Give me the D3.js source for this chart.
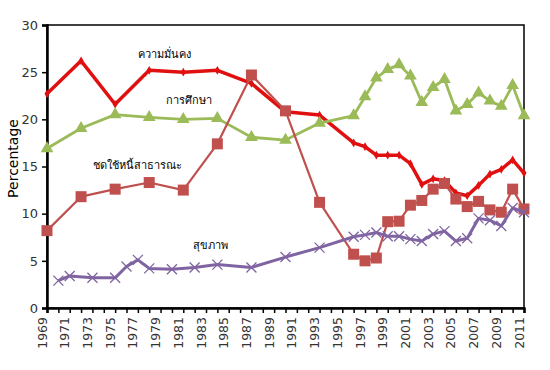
<!DOCTYPE html>
<html><head><meta charset="utf-8">
<script src="https://cdn.jsdelivr.net/npm/d3@7"></script>
<style>body{margin:0;background:#fff;} svg{display:block;}</style>
</head><body>
<svg id="c" width="550" height="370"></svg>
<script>
const yearsA = [1969,1972,1975,1978,1981,1984,1987,1990,1993,1996,1997,1998,1999,2000,2001,2002,2003,2004,2005,2006,2007,2008,2009,2010,2011];
const security = [22.7,26.2,21.6,25.2,25.0,25.2,23.8,20.8,20.45,17.5,17.1,16.2,16.2,16.2,15.3,13.1,13.7,13.5,12.2,11.9,13.0,14.2,14.7,15.7,14.3];
const education = [16.9,19.05,20.5,20.2,20.0,20.1,18.1,17.8,19.6,20.4,22.4,24.4,25.3,25.8,24.6,21.8,23.4,24.25,20.9,21.6,22.8,21.95,21.4,23.6,20.4];
const debt = [8.2,11.8,12.6,13.3,12.5,17.4,24.7,20.9,11.2,5.7,5.0,5.3,9.15,9.2,10.9,11.4,12.6,13.2,11.55,10.75,11.3,10.4,10.15,12.6,10.5];
const yearsH = [1970,1971,1973,1975,1976,1977,1978,1980,1982,1984,1987,1990,1993,1996,1997,1998,1999,2000,2001,2002,2003,2004,2005,2006,2007,2008,2009,2010,2011];
const health = [2.9,3.4,3.2,3.2,4.4,5.1,4.2,4.1,4.3,4.6,4.3,5.4,6.4,7.55,7.75,8.0,7.6,7.6,7.3,7.1,7.85,8.15,7.1,7.4,9.5,9.3,8.7,10.6,10.15];
const yTicks = [0,5,10,15,20,25,30];
const xLabelYears = d3.range(1969, 2012, 2);
const xTickYears = d3.range(1969, 2012, 1);
const names = {security:"ความมั่นคง", education:"การศึกษา", debt:"ชดใช้หนี้สาธารณะ", health:"สุขภาพ"};

const svg = d3.select("#c");
const L=47, R=524, T=25, B=308;
const x = d3.scaleLinear().domain([1969,2011]).range([L,R]);
const y = d3.scaleLinear().domain([0,30]).range([B,T]);
const font = "'DejaVu Sans', Verdana, sans-serif";

// frame
svg.append("rect").attr("x",L).attr("y",T).attr("width",R-L).attr("height",B-T)
  .attr("fill","none").attr("stroke","#000").attr("stroke-width",1.5);

// y axis
const ya = svg.append("g").attr("transform",`translate(${L},0)`)
  .call(d3.axisLeft(y).tickValues(yTicks).tickSize(5).tickPadding(4));
ya.select(".domain").attr("stroke","#000").attr("stroke-width",2.5);
ya.selectAll(".tick line").attr("stroke","#000").attr("stroke-width",1.5);
ya.selectAll("text").attr("font-family",font).attr("font-size",13).attr("fill","#333");

// x axis
const xa = svg.append("g").attr("transform",`translate(0,${B})`)
  .call(d3.axisBottom(x).tickValues(xTickYears).tickSize(5).tickFormat(d => xLabelYears.includes(d) ? String(d) : ""));
xa.select(".domain").attr("stroke","#000").attr("stroke-width",2.5);
xa.selectAll(".tick line").attr("stroke","#000").attr("stroke-width",1.5);
xa.selectAll("text").attr("font-family",font).attr("font-size",12.5).attr("fill","#333")
  .attr("transform","rotate(-90)").attr("text-anchor","end").attr("dx",-9).attr("dy",-4.5).attr("y",0).attr("x",0)
  .attr("dominant-baseline","middle");

svg.append("text").attr("transform",`translate(18,${(T+B)/2-8}) rotate(-90)`)
  .attr("text-anchor","middle").attr("font-family",font).attr("font-size",14).attr("fill","#000").text("Percentage");

function series(xs, vs, color, width){
  const pts = xs.map((d,i)=>[x(d), y(vs[i])]);
  svg.append("path").attr("d", d3.line()(pts)).attr("fill","none").attr("stroke",color)
    .attr("stroke-width",width).attr("stroke-linejoin","round");
  return pts;
}
// security
const p1 = series(yearsA, security, "#e01010", 3.5);
svg.append("g").selectAll("path").data(p1).join("path")
  .attr("transform",d=>`translate(${d[0]},${d[1]})`)
  .attr("d", d3.symbol(d3.symbolDiamond, 22)).attr("fill","#e01010");
// education
const p2 = series(yearsA, education, "#9bbb59", 2.8);
svg.append("g").selectAll("path").data(p2).join("path")
  .attr("transform",d=>`translate(${d[0]},${d[1]})`)
  .attr("d", d3.symbol(d3.symbolTriangle, 70)).attr("fill","#9bbb59");
// debt
const p3 = series(yearsA, debt, "#c0504d", 2.2);
svg.append("g").selectAll("rect").data(p3).join("rect")
  .attr("x",d=>d[0]-5.5).attr("y",d=>d[1]-5.5).attr("width",11).attr("height",11).attr("fill","#c0504d");
// health
const p4 = series(yearsH, health, "#8064a2", 3);
svg.append("g").selectAll("path").data(p4).join("path")
  .attr("transform",d=>`translate(${d[0]},${d[1]})`)
  .attr("d","M-5,-5L5,5M-5,5L5,-5").attr("stroke","#8064a2").attr("stroke-width",1.3).attr("fill","none");

// labels
const lab = [[names.security,164,55],[names.education,189,101],[names.debt,137,166],[names.health,210,246]];
svg.append("g").selectAll("text").data(lab).join("text")
  .attr("x",d=>d[1]).attr("y",d=>d[2]).attr("text-anchor","middle").attr("dominant-baseline","middle")
  .attr("font-family","'Noto Sans', 'DejaVu Sans', sans-serif").attr("font-size",11).attr("fill","#000").text(d=>d[0]);
</script>
</body></html>
